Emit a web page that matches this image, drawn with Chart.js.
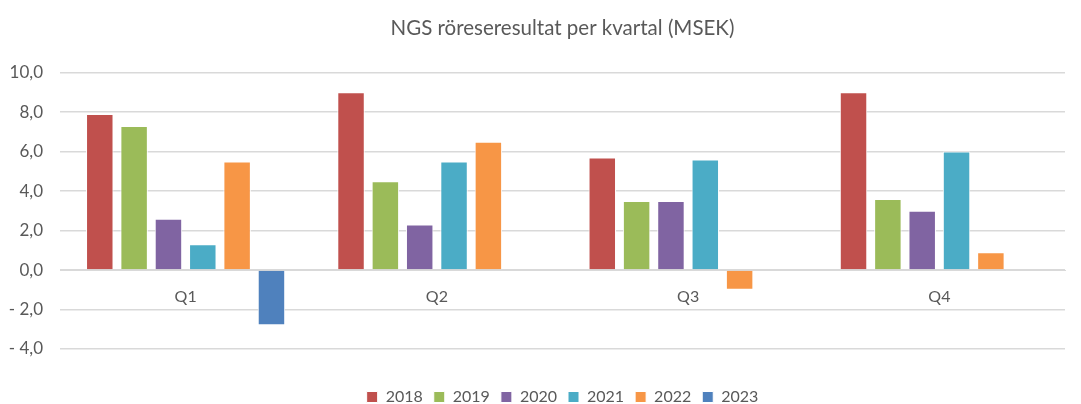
<!DOCTYPE html>
<html lang="sv">
<head>
    <meta charset="UTF-8">
    <title>NGS röreseresultat</title>
    <script src="https://cdn.jsdelivr.net/npm/chart.js"></script>
    <style>
        html, body { margin: 0; padding: 0; background: #fff; }
        #wrap { width: 1081px; height: 404px; }
    </style>
</head>
<body>
    <div id="wrap"><canvas id="ngsChart" width="1081" height="404"></canvas></div>
    <script>
        const quarters = ['Q1', 'Q2', 'Q3', 'Q4'];
        const years = ['2018', '2019', '2020', '2021', '2022', '2023'];
        const v2018 = [7.9, 9.0, 5.7, 9.0];
        const v2019 = [7.3, 4.5, 3.5, 3.6];
        const v2020 = [2.6, 2.3, 3.5, 3.0];
        const v2021 = [1.3, 5.5, 5.6, 6.0];
        const v2022 = [5.5, 6.5, -1.0, 0.9];
        const v2023 = [-2.8, null, null, null];
        const yearColors = ['#c0504d', '#9bbb59', '#8064a2', '#4bacc6', '#f79646', '#4f81bd'];

        const series = [v2018, v2019, v2020, v2021, v2022, v2023];
        const textColor = '#595959';
        const fontFamily = 'Lato, "Open Sans", sans-serif';

        function fmt(v) {
            const s = Math.abs(v).toFixed(1).replace('.', ',');
            return v < 0 ? '- ' + s : s;
        }

        new Chart(document.getElementById('ngsChart').getContext('2d'), {
            type: 'bar',
            data: {
                labels: quarters,
                datasets: years.map((y, i) => ({
                    label: y,
                    data: series[i],
                    backgroundColor: yearColors[i],
                    borderColor: '#ffffff',
                    borderWidth: 1,
                    categoryPercentage: 0.82,
                    barPercentage: 0.8
                }))
            },
            options: {
                responsive: false,
                animation: false,
                layout: { padding: { left: 0, right: 16, top: 4, bottom: -11 } },
                plugins: {
                    title: {
                        display: true,
                        fullSize: false, // centre over the plot area, not the canvas
                        text: 'NGS röreseresultat per kvartal (MSEK)',
                        color: textColor,
                        font: { family: fontFamily, size: 20.5, weight: 'normal' },
                        padding: { top: 12, bottom: 32 }
                    },
                    legend: {
                        position: 'bottom',
                        fullSize: false,
                        // blank legend title, only used as space above the items
                        title: {
                            display: true,
                            text: ' ',
                            font: { size: 10 },
                            padding: { top: 0, bottom: 17 }
                        },
                        labels: {
                            color: textColor,
                            boxWidth: 11,
                            boxHeight: 11,
                            padding: 11,
                            font: { family: fontFamily, size: 16 }
                        }
                    },
                    tooltip: { enabled: false }
                },
                scales: {
                    x: {
                        position: { y: 0 },
                        grid: { display: false },
                        border: { display: true, color: '#d9d9d9' },
                        ticks: {
                            color: textColor,
                            padding: 9,
                            font: { family: fontFamily, size: 16 }
                        }
                    },
                    y: {
                        min: -4,
                        max: 10,
                        afterFit: scale => { scale.width = 60; },
                        ticks: {
                            stepSize: 2,
                            color: textColor,
                            padding: 17,
                            font: { family: fontFamily, size: 17 },
                            callback: v => fmt(v)
                        },
                        grid: { color: '#d9d9d9', lineWidth: 1.5, drawTicks: false },
                        border: { display: false }
                    }
                }
            }
        });
    </script>
</body>
</html>
